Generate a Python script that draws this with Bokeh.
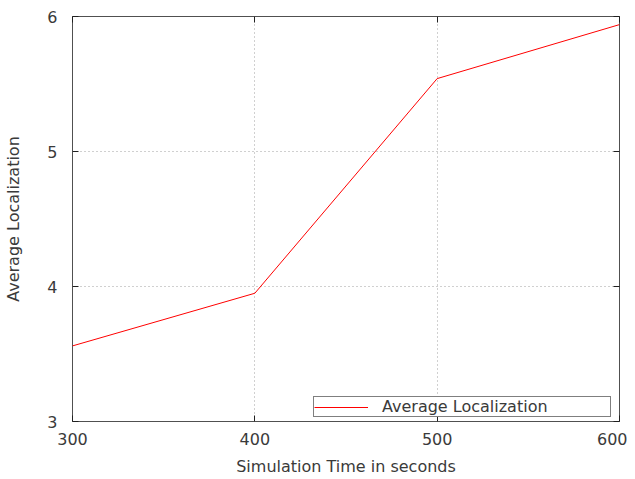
from bokeh.plotting import figure
from bokeh.models import LinearAxis, FixedTicker, Legend, LegendItem, CustomJSTickFormatter
from bokeh.embed import file_html
from bokeh.resources import INLINE

sim_time = [300, 400, 500, 600]
avg_localization = [3.56, 3.95, 5.54, 5.94]
x_ticks = [300, 400, 500, 600]
y_ticks = [3, 4, 5, 6]

FONT = "DejaVu Sans"
TXT = "#3a3a3a"
FS = "16px"

p = figure(width=627, height=479, output_backend="svg", toolbar_location=None,
           x_range=(300, 600), y_range=(3, 6),
           min_border_left=72, min_border_right=8, min_border_top=16, min_border_bottom=58,
           x_axis_label="Simulation Time in seconds", y_axis_label="Average Localization")
p.background_fill_color = "white"
p.border_fill_color = "white"
p.outline_line_color = "#505050"
p.outline_line_width = 1

for ax in (p.xaxis[0], p.yaxis[0]):
    ax.axis_line_color = None
    ax.major_tick_in = 6
    ax.major_tick_out = 0
    ax.minor_tick_line_color = None
    ax.major_tick_line_color = "#202020"
    ax.major_label_text_font = FONT
    ax.major_label_text_font_size = FS
    ax.major_label_text_color = TXT
    ax.axis_label_text_font = FONT
    ax.axis_label_text_font_size = FS
    ax.axis_label_text_font_style = "normal"
    ax.axis_label_text_color = TXT

p.xaxis[0].ticker = FixedTicker(ticks=x_ticks)
p.yaxis[0].ticker = FixedTicker(ticks=y_ticks)
p.xaxis[0].major_label_standoff = 11
p.yaxis[0].major_label_standoff = 15
p.xaxis[0].axis_label_standoff = 9
p.yaxis[0].axis_label_standoff = 21

# mirror ticks (no labels)
for loc, tk in (("above", x_ticks), ("right", y_ticks)):
    a = LinearAxis(ticker=FixedTicker(ticks=tk), axis_line_color=None,
                   major_tick_in=6, major_tick_out=0, minor_tick_line_color=None,
                   major_tick_line_color="#202020",
                   formatter=CustomJSTickFormatter(code="return ''"),
                   major_label_standoff=0)
    p.add_layout(a, loc)

p.xgrid.ticker = FixedTicker(ticks=x_ticks[1:-1])
p.ygrid.ticker = FixedTicker(ticks=y_ticks[1:-1])
for g in (p.xgrid[0], p.ygrid[0]):
    g.grid_line_color = "#a0a0a0"
    g.grid_line_dash = "1 3"
    g.grid_line_width = 1

r = p.line(sim_time, avg_localization, line_color="#ff0000", line_width=1)

legend = Legend(items=[LegendItem(label="Average Localization", renderers=[r])],
                location=(241, 4), orientation="vertical",
                border_line_color="#000000", border_line_width=1,
                background_fill_alpha=1, padding=0, margin=0, spacing=0,
                glyph_width=54, glyph_height=16, label_height=16,
                label_standoff=14, label_width=228,
                label_text_font=FONT, label_text_font_size=FS,
                label_text_color=TXT)
p.add_layout(legend, "center")

open("out.html", "w").write(file_html(p, INLINE))
